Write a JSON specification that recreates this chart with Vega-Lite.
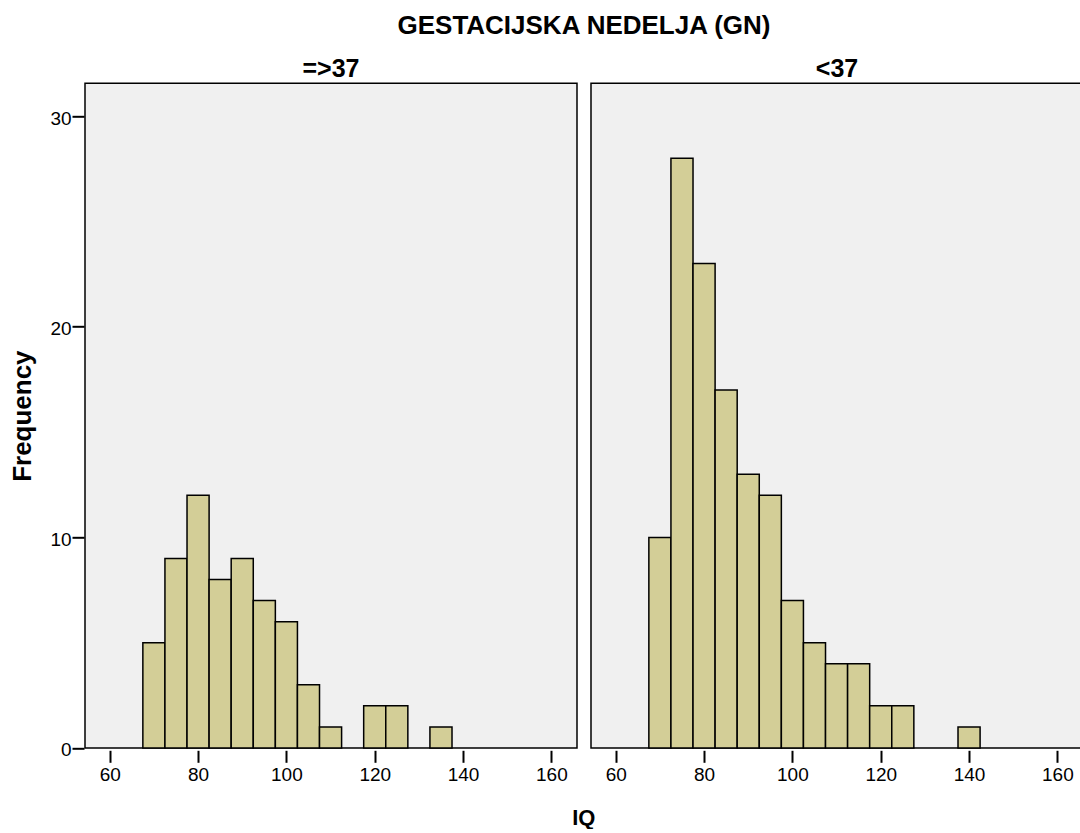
{
  "$schema": "https://vega.github.io/schema/vega-lite/v6.json",
  "background": "white",
  "padding": {"left": 9, "top": 13.3, "right": 0, "bottom": 0},
  "data": {
    "values": [
      {"group": "=>37", "lo": 67.5, "hi": 72.5, "count": 5},
      {"group": "=>37", "lo": 72.5, "hi": 77.5, "count": 9},
      {"group": "=>37", "lo": 77.5, "hi": 82.5, "count": 12},
      {"group": "=>37", "lo": 82.5, "hi": 87.5, "count": 8},
      {"group": "=>37", "lo": 87.5, "hi": 92.5, "count": 9},
      {"group": "=>37", "lo": 92.5, "hi": 97.5, "count": 7},
      {"group": "=>37", "lo": 97.5, "hi": 102.5, "count": 6},
      {"group": "=>37", "lo": 102.5, "hi": 107.5, "count": 3},
      {"group": "=>37", "lo": 107.5, "hi": 112.5, "count": 1},
      {"group": "=>37", "lo": 117.5, "hi": 122.5, "count": 2},
      {"group": "=>37", "lo": 122.5, "hi": 127.5, "count": 2},
      {"group": "=>37", "lo": 132.5, "hi": 137.5, "count": 1},
      {"group": "<37", "lo": 67.5, "hi": 72.5, "count": 10},
      {"group": "<37", "lo": 72.5, "hi": 77.5, "count": 28},
      {"group": "<37", "lo": 77.5, "hi": 82.5, "count": 23},
      {"group": "<37", "lo": 82.5, "hi": 87.5, "count": 17},
      {"group": "<37", "lo": 87.5, "hi": 92.5, "count": 13},
      {"group": "<37", "lo": 92.5, "hi": 97.5, "count": 12},
      {"group": "<37", "lo": 97.5, "hi": 102.5, "count": 7},
      {"group": "<37", "lo": 102.5, "hi": 107.5, "count": 5},
      {"group": "<37", "lo": 107.5, "hi": 112.5, "count": 4},
      {"group": "<37", "lo": 112.5, "hi": 117.5, "count": 4},
      {"group": "<37", "lo": 117.5, "hi": 122.5, "count": 2},
      {"group": "<37", "lo": 122.5, "hi": 127.5, "count": 2},
      {"group": "<37", "lo": 137.5, "hi": 142.5, "count": 1}
    ]
  },
  "title": {
    "text": "IQ",
    "orient": "bottom",
    "anchor": "middle",
    "frame": "bounds",
    "dx": 37,
    "font": "Liberation Sans",
    "fontSize": 22,
    "fontWeight": "bold",
    "color": "black",
    "offset": 24
  },
  "spacing": 12,
  "facet": {
    "column": {
      "field": "group",
      "type": "nominal",
      "sort": ["=>37", "<37"],
      "title": "GESTACIJSKA NEDELJA (GN)",
      "header": {
        "titleFont": "Liberation Sans",
        "titleFontSize": 26,
        "titleFontWeight": "bold",
        "titleColor": "black",
        "titlePadding": 8,
        "labelFont": "Liberation Sans",
        "labelFontSize": 25,
        "labelFontWeight": "bold",
        "labelColor": "black",
        "labelPadding": 0
      }
    }
  },
  "spec": {
    "width": 492,
    "height": 664.7,
    "mark": {"type": "bar", "fill": "#D3CE97", "stroke": "black", "strokeWidth": 1.5},
    "encoding": {
      "x": {
        "field": "lo",
        "type": "quantitative",
        "scale": {"domain": [54.4, 165.8], "nice": false, "zero": false},
        "axis": {
          "title": null,
          "values": [60, 80, 100, 120, 140, 160],
          "grid": false,
          "domain": false,
          "tickColor": "black",
          "tickWidth": 2,
          "tickSize": 12,
          "labelFont": "Liberation Sans",
          "labelFontSize": 19,
          "labelColor": "black",
          "labelPadding": 3
        }
      },
      "x2": {"field": "hi"},
      "y": {
        "field": "count",
        "type": "quantitative",
        "title": "Frequency",
        "scale": {"domain": [0, 31.56], "nice": false},
        "axis": {
          "values": [0, 10, 20, 30],
          "grid": false,
          "domain": false,
          "tickColor": "black",
          "tickWidth": 2,
          "tickSize": 12,
          "labelFont": "Liberation Sans",
          "labelFontSize": 19,
          "labelColor": "black",
          "labelPadding": 1,
          "labelOffset": 2,
          "titleFont": "Liberation Sans",
          "titleFontSize": 26,
          "titleFontWeight": "bold",
          "titleColor": "black",
          "titlePadding": 14
        }
      },
      "y2": {"datum": 0}
    }
  },
  "config": {
    "view": {"fill": "#F0F0F0", "stroke": "black", "strokeWidth": 1.5}
  }
}
